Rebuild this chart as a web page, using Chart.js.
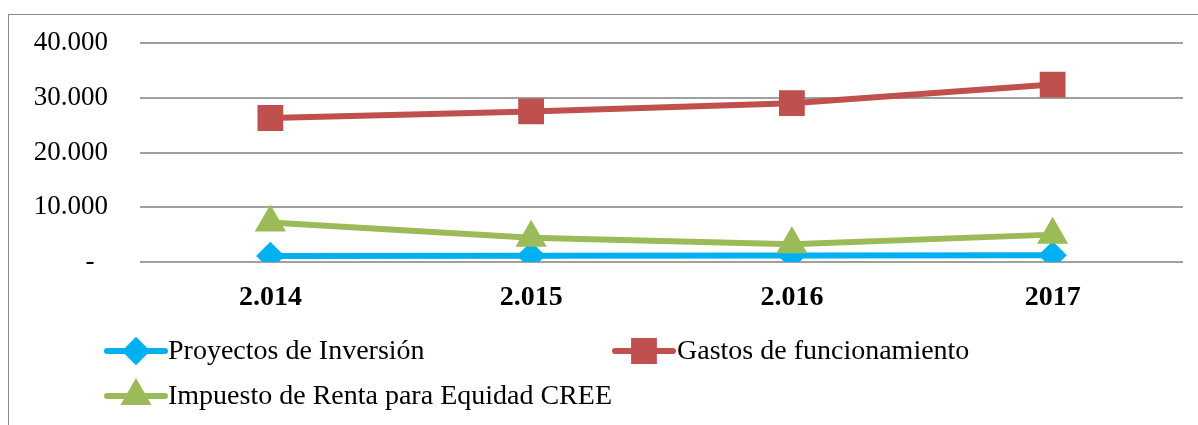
<!DOCTYPE html>
<html>
<head>
<meta charset="utf-8">
<script src="https://cdn.jsdelivr.net/npm/chart.js@4"></script>
<style>
  body { margin: 0; background: #fff; width: 1198px; height: 425px; overflow: hidden; position: relative; }
  #box { position: absolute; left: 8px; top: 14px; width: 1200px; height: 420px; border: 1.5px solid #8a8a8a; border-right: none; border-bottom: none; box-sizing: border-box; }
  #wrap { position: absolute; left: 9px; top: 15px; width: 1189px; height: 410px; }
</style>
</head>
<body>
<div id="box"></div>
<div id="wrap"><canvas id="lineChart"></canvas></div>
<script>
// data
const years = ['2.014', '2.015', '2.016', '2017'];
const proyectos = [1100, 1150, 1200, 1250];
const gastos = [26300, 27500, 29000, 32400];
const impuesto = [7200, 4450, 3250, 5000];
const yTicks = [0, 10000, 20000, 30000, 40000];

const FONT = '"Liberation Serif", "Times New Roman", serif';

// legend drawn by hand so the items sit where they do in the original
const legendPlugin = {
  id: 'sheetLegend',
  afterDraw(chart) {
    const ctx = chart.ctx;
    const b = chart.chartArea.bottom;
    const slots = [
      { x: 98, y: b + 89 },
      { x: 606, y: b + 89 },
      { x: 98, y: b + 134 }
    ];
    ctx.save();
    chart.data.datasets.forEach((ds, i) => {
      const s = slots[i];
      ctx.strokeStyle = ds.borderColor;
      ctx.lineWidth = ds.borderWidth;
      ctx.lineCap = 'round';
      ctx.beginPath();
      ctx.moveTo(s.x, s.y);
      ctx.lineTo(s.x + 58, s.y);
      ctx.stroke();
      ctx.fillStyle = ds.borderColor;
      Chart.helpers.drawPoint(ctx, {
        pointStyle: ds.pointStyle,
        radius: ds.pointRadius,
        rotation: 0,
        borderWidth: 1
      }, s.x + 29, s.y);
      ctx.fillStyle = '#000';
      ctx.font = '28px ' + FONT;
      ctx.textBaseline = 'middle';
      ctx.textAlign = 'left';
      ctx.fillText(ds.label, s.x + 61 + (i === 1 ? 1 : 0), s.y + 1);
    });
    ctx.restore();
  }
};

const ctx = document.getElementById('lineChart').getContext('2d');
new Chart(ctx, {
  type: 'line',
  data: {
    labels: years,
    datasets: [{
      label: 'Proyectos de Inversión',
      data: proyectos,
      borderColor: '#00B0F0',
      backgroundColor: '#00B0F0',
      borderWidth: 6,
      pointStyle: 'rectRot',
      pointRadius: 10,
      order: 3
    }, {
      label: 'Gastos de funcionamiento',
      data: gastos,
      borderColor: '#C0504D',
      backgroundColor: '#C0504D',
      borderWidth: 6,
      pointStyle: 'rect',
      pointRadius: 14,
      order: 2
    }, {
      label: 'Impuesto de Renta para Equidad CREE',
      data: impuesto,
      borderColor: '#9BBB59',
      backgroundColor: '#9BBB59',
      borderWidth: 6,
      pointStyle: 'triangle',
      pointRadius: 12,
      order: 1
    }]
  },
  options: {
    responsive: true,
    maintainAspectRatio: false,
    animation: false,
    layout: { autoPadding: false, padding: { top: 28, right: 15, left: 0, bottom: 0 } },
    plugins: {
      legend: { display: false },
      tooltip: { enabled: false }
    },
    scales: {
      x: {
        offset: true,
        grid: { display: false },
        border: { display: false },
        ticks: {
          color: '#000',
          padding: 11,
          font: { family: FONT, size: 28, weight: 'bold' }
        },
        afterFit(scale) {
          scale.height = 163;
          scale.paddingLeft = 0;
          scale.paddingRight = 0;
        }
      },
      y: {
        min: 0,
        max: 40000,
        afterBuildTicks(scale) { scale.ticks = yTicks.map(v => ({ value: v })); },
        grid: { color: '#a0a0a0', lineWidth: 2, drawTicks: false },
        border: { display: false },
        ticks: {
          color: '#000',
          padding: 32,
          font: { family: FONT, size: 27 },
          callback: v => v === 0 ? '-  ' : (v / 1000) + '.000'
        },
        afterFit(scale) {
          scale.width = 131;
          scale.paddingTop = 0;
          scale.paddingBottom = 0;
        }
      }
    }
  },
  plugins: [legendPlugin]
});
</script>
</body>
</html>
